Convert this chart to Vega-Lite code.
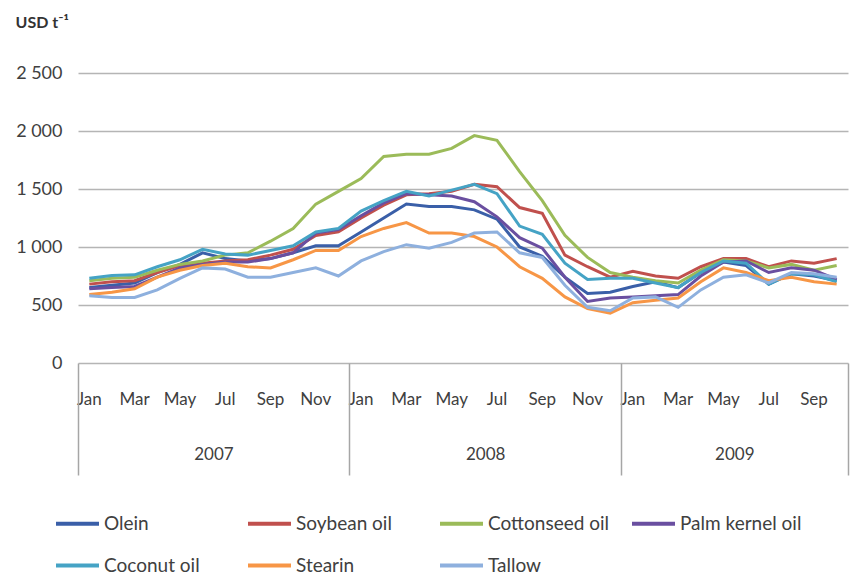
{
  "$schema": "https://vega.github.io/schema/vega-lite/v6.json",
  "width": 770,
  "height": 290,
  "autosize": {"type": "none"},
  "padding": {"left": 78, "top": 73, "right": 5, "bottom": 215},
  "background": "white",
  "config": {"view": {"stroke": null}, "font": "Lato"},
  "data": {"values": [
    {"month":"2007-01","oil":"Olein","price":650},{"month":"2007-02","oil":"Olein","price":670},{"month":"2007-03","oil":"Olein","price":690},{"month":"2007-04","oil":"Olein","price":780},{"month":"2007-05","oil":"Olein","price":850},{"month":"2007-06","oil":"Olein","price":950},{"month":"2007-07","oil":"Olein","price":900},{"month":"2007-08","oil":"Olein","price":880},{"month":"2007-09","oil":"Olein","price":900},{"month":"2007-10","oil":"Olein","price":950},{"month":"2007-11","oil":"Olein","price":1010},{"month":"2007-12","oil":"Olein","price":1010},
    {"month":"2008-01","oil":"Olein","price":1130},{"month":"2008-02","oil":"Olein","price":1250},{"month":"2008-03","oil":"Olein","price":1370},{"month":"2008-04","oil":"Olein","price":1350},{"month":"2008-05","oil":"Olein","price":1350},{"month":"2008-06","oil":"Olein","price":1320},{"month":"2008-07","oil":"Olein","price":1240},{"month":"2008-08","oil":"Olein","price":1000},{"month":"2008-09","oil":"Olein","price":920},{"month":"2008-10","oil":"Olein","price":740},{"month":"2008-11","oil":"Olein","price":600},{"month":"2008-12","oil":"Olein","price":610},
    {"month":"2009-01","oil":"Olein","price":660},{"month":"2009-02","oil":"Olein","price":700},{"month":"2009-03","oil":"Olein","price":650},{"month":"2009-04","oil":"Olein","price":780},{"month":"2009-05","oil":"Olein","price":870},{"month":"2009-06","oil":"Olein","price":840},{"month":"2009-07","oil":"Olein","price":680},{"month":"2009-08","oil":"Olein","price":770},{"month":"2009-09","oil":"Olein","price":750},{"month":"2009-10","oil":"Olein","price":710},

    {"month":"2007-01","oil":"Soybean oil","price":680},{"month":"2007-02","oil":"Soybean oil","price":700},{"month":"2007-03","oil":"Soybean oil","price":710},{"month":"2007-04","oil":"Soybean oil","price":780},{"month":"2007-05","oil":"Soybean oil","price":840},{"month":"2007-06","oil":"Soybean oil","price":860},{"month":"2007-07","oil":"Soybean oil","price":880},{"month":"2007-08","oil":"Soybean oil","price":890},{"month":"2007-09","oil":"Soybean oil","price":930},{"month":"2007-10","oil":"Soybean oil","price":980},{"month":"2007-11","oil":"Soybean oil","price":1100},{"month":"2007-12","oil":"Soybean oil","price":1130},
    {"month":"2008-01","oil":"Soybean oil","price":1250},{"month":"2008-02","oil":"Soybean oil","price":1360},{"month":"2008-03","oil":"Soybean oil","price":1450},{"month":"2008-04","oil":"Soybean oil","price":1460},{"month":"2008-05","oil":"Soybean oil","price":1480},{"month":"2008-06","oil":"Soybean oil","price":1540},{"month":"2008-07","oil":"Soybean oil","price":1520},{"month":"2008-08","oil":"Soybean oil","price":1340},{"month":"2008-09","oil":"Soybean oil","price":1290},{"month":"2008-10","oil":"Soybean oil","price":930},{"month":"2008-11","oil":"Soybean oil","price":830},{"month":"2008-12","oil":"Soybean oil","price":740},
    {"month":"2009-01","oil":"Soybean oil","price":790},{"month":"2009-02","oil":"Soybean oil","price":750},{"month":"2009-03","oil":"Soybean oil","price":730},{"month":"2009-04","oil":"Soybean oil","price":830},{"month":"2009-05","oil":"Soybean oil","price":900},{"month":"2009-06","oil":"Soybean oil","price":900},{"month":"2009-07","oil":"Soybean oil","price":830},{"month":"2009-08","oil":"Soybean oil","price":880},{"month":"2009-09","oil":"Soybean oil","price":860},{"month":"2009-10","oil":"Soybean oil","price":900},

    {"month":"2007-01","oil":"Cottonseed oil","price":710},{"month":"2007-02","oil":"Cottonseed oil","price":730},{"month":"2007-03","oil":"Cottonseed oil","price":740},{"month":"2007-04","oil":"Cottonseed oil","price":800},{"month":"2007-05","oil":"Cottonseed oil","price":850},{"month":"2007-06","oil":"Cottonseed oil","price":880},{"month":"2007-07","oil":"Cottonseed oil","price":930},{"month":"2007-08","oil":"Cottonseed oil","price":950},{"month":"2007-09","oil":"Cottonseed oil","price":1050},{"month":"2007-10","oil":"Cottonseed oil","price":1160},{"month":"2007-11","oil":"Cottonseed oil","price":1370},{"month":"2007-12","oil":"Cottonseed oil","price":1480},
    {"month":"2008-01","oil":"Cottonseed oil","price":1590},{"month":"2008-02","oil":"Cottonseed oil","price":1780},{"month":"2008-03","oil":"Cottonseed oil","price":1800},{"month":"2008-04","oil":"Cottonseed oil","price":1800},{"month":"2008-05","oil":"Cottonseed oil","price":1850},{"month":"2008-06","oil":"Cottonseed oil","price":1960},{"month":"2008-07","oil":"Cottonseed oil","price":1920},{"month":"2008-08","oil":"Cottonseed oil","price":1650},{"month":"2008-09","oil":"Cottonseed oil","price":1400},{"month":"2008-10","oil":"Cottonseed oil","price":1100},{"month":"2008-11","oil":"Cottonseed oil","price":910},{"month":"2008-12","oil":"Cottonseed oil","price":780},
    {"month":"2009-01","oil":"Cottonseed oil","price":740},{"month":"2009-02","oil":"Cottonseed oil","price":710},{"month":"2009-03","oil":"Cottonseed oil","price":690},{"month":"2009-04","oil":"Cottonseed oil","price":800},{"month":"2009-05","oil":"Cottonseed oil","price":890},{"month":"2009-06","oil":"Cottonseed oil","price":880},{"month":"2009-07","oil":"Cottonseed oil","price":820},{"month":"2009-08","oil":"Cottonseed oil","price":850},{"month":"2009-09","oil":"Cottonseed oil","price":800},{"month":"2009-10","oil":"Cottonseed oil","price":840},

    {"month":"2007-01","oil":"Palm kernel oil","price":640},{"month":"2007-02","oil":"Palm kernel oil","price":650},{"month":"2007-03","oil":"Palm kernel oil","price":660},{"month":"2007-04","oil":"Palm kernel oil","price":740},{"month":"2007-05","oil":"Palm kernel oil","price":820},{"month":"2007-06","oil":"Palm kernel oil","price":850},{"month":"2007-07","oil":"Palm kernel oil","price":870},{"month":"2007-08","oil":"Palm kernel oil","price":870},{"month":"2007-09","oil":"Palm kernel oil","price":900},{"month":"2007-10","oil":"Palm kernel oil","price":950},{"month":"2007-11","oil":"Palm kernel oil","price":1120},{"month":"2007-12","oil":"Palm kernel oil","price":1150},
    {"month":"2008-01","oil":"Palm kernel oil","price":1270},{"month":"2008-02","oil":"Palm kernel oil","price":1380},{"month":"2008-03","oil":"Palm kernel oil","price":1460},{"month":"2008-04","oil":"Palm kernel oil","price":1450},{"month":"2008-05","oil":"Palm kernel oil","price":1440},{"month":"2008-06","oil":"Palm kernel oil","price":1390},{"month":"2008-07","oil":"Palm kernel oil","price":1260},{"month":"2008-08","oil":"Palm kernel oil","price":1080},{"month":"2008-09","oil":"Palm kernel oil","price":990},{"month":"2008-10","oil":"Palm kernel oil","price":740},{"month":"2008-11","oil":"Palm kernel oil","price":530},{"month":"2008-12","oil":"Palm kernel oil","price":560},
    {"month":"2009-01","oil":"Palm kernel oil","price":570},{"month":"2009-02","oil":"Palm kernel oil","price":580},{"month":"2009-03","oil":"Palm kernel oil","price":590},{"month":"2009-04","oil":"Palm kernel oil","price":750},{"month":"2009-05","oil":"Palm kernel oil","price":870},{"month":"2009-06","oil":"Palm kernel oil","price":880},{"month":"2009-07","oil":"Palm kernel oil","price":780},{"month":"2009-08","oil":"Palm kernel oil","price":820},{"month":"2009-09","oil":"Palm kernel oil","price":800},{"month":"2009-10","oil":"Palm kernel oil","price":720},

    {"month":"2007-01","oil":"Coconut oil","price":730},{"month":"2007-02","oil":"Coconut oil","price":755},{"month":"2007-03","oil":"Coconut oil","price":760},{"month":"2007-04","oil":"Coconut oil","price":830},{"month":"2007-05","oil":"Coconut oil","price":890},{"month":"2007-06","oil":"Coconut oil","price":980},{"month":"2007-07","oil":"Coconut oil","price":940},{"month":"2007-08","oil":"Coconut oil","price":930},{"month":"2007-09","oil":"Coconut oil","price":970},{"month":"2007-10","oil":"Coconut oil","price":1010},{"month":"2007-11","oil":"Coconut oil","price":1130},{"month":"2007-12","oil":"Coconut oil","price":1160},
    {"month":"2008-01","oil":"Coconut oil","price":1310},{"month":"2008-02","oil":"Coconut oil","price":1400},{"month":"2008-03","oil":"Coconut oil","price":1480},{"month":"2008-04","oil":"Coconut oil","price":1440},{"month":"2008-05","oil":"Coconut oil","price":1490},{"month":"2008-06","oil":"Coconut oil","price":1540},{"month":"2008-07","oil":"Coconut oil","price":1460},{"month":"2008-08","oil":"Coconut oil","price":1180},{"month":"2008-09","oil":"Coconut oil","price":1110},{"month":"2008-10","oil":"Coconut oil","price":860},{"month":"2008-11","oil":"Coconut oil","price":720},{"month":"2008-12","oil":"Coconut oil","price":730},
    {"month":"2009-01","oil":"Coconut oil","price":730},{"month":"2009-02","oil":"Coconut oil","price":690},{"month":"2009-03","oil":"Coconut oil","price":650},{"month":"2009-04","oil":"Coconut oil","price":780},{"month":"2009-05","oil":"Coconut oil","price":880},{"month":"2009-06","oil":"Coconut oil","price":860},{"month":"2009-07","oil":"Coconut oil","price":680},{"month":"2009-08","oil":"Coconut oil","price":770},{"month":"2009-09","oil":"Coconut oil","price":760},{"month":"2009-10","oil":"Coconut oil","price":700},

    {"month":"2007-01","oil":"Stearin","price":590},{"month":"2007-02","oil":"Stearin","price":610},{"month":"2007-03","oil":"Stearin","price":640},{"month":"2007-04","oil":"Stearin","price":740},{"month":"2007-05","oil":"Stearin","price":800},{"month":"2007-06","oil":"Stearin","price":840},{"month":"2007-07","oil":"Stearin","price":860},{"month":"2007-08","oil":"Stearin","price":830},{"month":"2007-09","oil":"Stearin","price":820},{"month":"2007-10","oil":"Stearin","price":890},{"month":"2007-11","oil":"Stearin","price":970},{"month":"2007-12","oil":"Stearin","price":970},
    {"month":"2008-01","oil":"Stearin","price":1090},{"month":"2008-02","oil":"Stearin","price":1160},{"month":"2008-03","oil":"Stearin","price":1210},{"month":"2008-04","oil":"Stearin","price":1120},{"month":"2008-05","oil":"Stearin","price":1120},{"month":"2008-06","oil":"Stearin","price":1090},{"month":"2008-07","oil":"Stearin","price":1000},{"month":"2008-08","oil":"Stearin","price":830},{"month":"2008-09","oil":"Stearin","price":730},{"month":"2008-10","oil":"Stearin","price":570},{"month":"2008-11","oil":"Stearin","price":470},{"month":"2008-12","oil":"Stearin","price":430},
    {"month":"2009-01","oil":"Stearin","price":520},{"month":"2009-02","oil":"Stearin","price":540},{"month":"2009-03","oil":"Stearin","price":560},{"month":"2009-04","oil":"Stearin","price":700},{"month":"2009-05","oil":"Stearin","price":820},{"month":"2009-06","oil":"Stearin","price":780},{"month":"2009-07","oil":"Stearin","price":710},{"month":"2009-08","oil":"Stearin","price":740},{"month":"2009-09","oil":"Stearin","price":700},{"month":"2009-10","oil":"Stearin","price":680},

    {"month":"2007-01","oil":"Tallow","price":580},{"month":"2007-02","oil":"Tallow","price":565},{"month":"2007-03","oil":"Tallow","price":565},{"month":"2007-04","oil":"Tallow","price":630},{"month":"2007-05","oil":"Tallow","price":730},{"month":"2007-06","oil":"Tallow","price":820},{"month":"2007-07","oil":"Tallow","price":810},{"month":"2007-08","oil":"Tallow","price":740},{"month":"2007-09","oil":"Tallow","price":740},{"month":"2007-10","oil":"Tallow","price":780},{"month":"2007-11","oil":"Tallow","price":820},{"month":"2007-12","oil":"Tallow","price":750},
    {"month":"2008-01","oil":"Tallow","price":880},{"month":"2008-02","oil":"Tallow","price":960},{"month":"2008-03","oil":"Tallow","price":1020},{"month":"2008-04","oil":"Tallow","price":990},{"month":"2008-05","oil":"Tallow","price":1040},{"month":"2008-06","oil":"Tallow","price":1120},{"month":"2008-07","oil":"Tallow","price":1130},{"month":"2008-08","oil":"Tallow","price":950},{"month":"2008-09","oil":"Tallow","price":910},{"month":"2008-10","oil":"Tallow","price":670},{"month":"2008-11","oil":"Tallow","price":480},{"month":"2008-12","oil":"Tallow","price":450},
    {"month":"2009-01","oil":"Tallow","price":560},{"month":"2009-02","oil":"Tallow","price":570},{"month":"2009-03","oil":"Tallow","price":480},{"month":"2009-04","oil":"Tallow","price":630},{"month":"2009-05","oil":"Tallow","price":740},{"month":"2009-06","oil":"Tallow","price":760},{"month":"2009-07","oil":"Tallow","price":690},{"month":"2009-08","oil":"Tallow","price":780},{"month":"2009-09","oil":"Tallow","price":770},{"month":"2009-10","oil":"Tallow","price":740}
  ]},
  "resolve": {"axis": {"x": "independent"}},
  "layer": [
    {
      "mark": {"type": "line", "strokeWidth": 3},
      "encoding": {
        "x": {
          "field": "month", "type": "ordinal",
          "scale": {"type": "band", "paddingInner": 0, "paddingOuter": 0},
          "axis": {
            "orient": "bottom",
            "values": ["2007-01","2007-03","2007-05","2007-07","2007-09","2007-11","2008-01","2008-03","2008-05","2008-07","2008-09","2008-11","2009-01","2009-03","2009-05","2009-07","2009-09"],
            "labelExpr": "['Jan','Feb','Mar','Apr','May','Jun','Jul','Aug','Sep','Oct','Nov','Dec'][toNumber(substring(datum.value,5,7))-1]",
            "labelAngle": 0, "ticks": false, "domain": false, "grid": false,
            "labelPadding": 28, "labelFontSize": 17, "labelFont": "Lato", "labelColor": "#404040",
            "title": null
          }
        },
        "y": {
          "field": "price", "type": "quantitative",
          "scale": {"domain": [0, 2500]},
          "axis": {
            "values": [0, 500, 1000, 1500, 2000, 2500],
            "labelExpr": "replace(format(datum.value, ','), ',', ' ')",
            "grid": true, "gridColor": "#B5B5B5", "gridWidth": 1.5,
            "ticks": false, "domain": false,
            "labelPadding": 16, "labelFontSize": 18, "labelFont": "Lato", "labelColor": "#404040",
            "title": "USD t⁻¹", "titleAngle": 0, "titleAlign": "left", "titleBaseline": "middle",
            "titleX": -63, "titleY": -51, "titleFontSize": 16, "titleFontWeight": "bold", "titleFont": "Lato", "titleColor": "#333333"
          }
        },
        "color": {
          "field": "oil", "type": "nominal",
          "scale": {
            "domain": ["Olein", "Soybean oil", "Cottonseed oil", "Palm kernel oil", "Coconut oil", "Stearin", "Tallow"],
            "range": ["#3A5FA8", "#C0504D", "#9BBB59", "#6A4FA0", "#45A3C5", "#F79646", "#8EB0DE"]
          },
          "legend": {
            "orient": "none", "legendX": -24, "legendY": 427,
            "direction": "horizontal", "columns": 4, "gridAlign": "all",
            "symbolType": "stroke", "symbolSize": 1849, "symbolStrokeWidth": 4,
            "labelFontSize": 19, "labelFont": "Lato", "labelColor": "#404040", "labelOffset": 3, "labelLimit": 250,
            "columnPadding": 14, "rowPadding": 8, "padding": 0, "title": null
          }
        }
      }
    },
    {
      "mark": {"type": "point", "opacity": 0},
      "encoding": {
        "x": {
          "field": "month", "type": "ordinal",
          "scale": {"type": "band", "paddingInner": 0, "paddingOuter": 0},
          "axis": {
            "orient": "bottom",
            "values": ["2007-07", "2008-07", "2009-06"],
            "labelExpr": "substring(datum.value,0,4)",
            "labelOffset": -11.3, "labelAngle": 0,
            "ticks": false, "domain": false, "grid": false,
            "labelPadding": 83, "labelFontSize": 17, "labelFont": "Lato", "labelColor": "#404040",
            "title": null
          }
        }
      }
    },
    {
      "mark": {"type": "point", "opacity": 0},
      "encoding": {
        "x": {
          "field": "month", "type": "ordinal",
          "scale": {"type": "band", "paddingInner": 0, "paddingOuter": 0},
          "axis": {
            "orient": "bottom",
            "values": ["2007-01", "2008-01", "2009-01"],
            "bandPosition": 0,
            "labels": false, "ticks": true, "tickSize": 112, "tickColor": "#A6A6A6", "tickWidth": 1.5,
            "domain": false, "grid": false, "title": null
          }
        }
      }
    },
    {
      "mark": {"type": "point", "opacity": 0},
      "encoding": {
        "x": {
          "field": "month", "type": "ordinal",
          "scale": {"type": "band", "paddingInner": 0, "paddingOuter": 0},
          "axis": {
            "orient": "bottom",
            "values": ["2009-10"],
            "bandPosition": 1,
            "labels": false, "ticks": true, "tickSize": 112, "tickColor": "#A6A6A6", "tickWidth": 1.5,
            "domain": false, "grid": false, "title": null
          }
        }
      }
    }
  ]
}
